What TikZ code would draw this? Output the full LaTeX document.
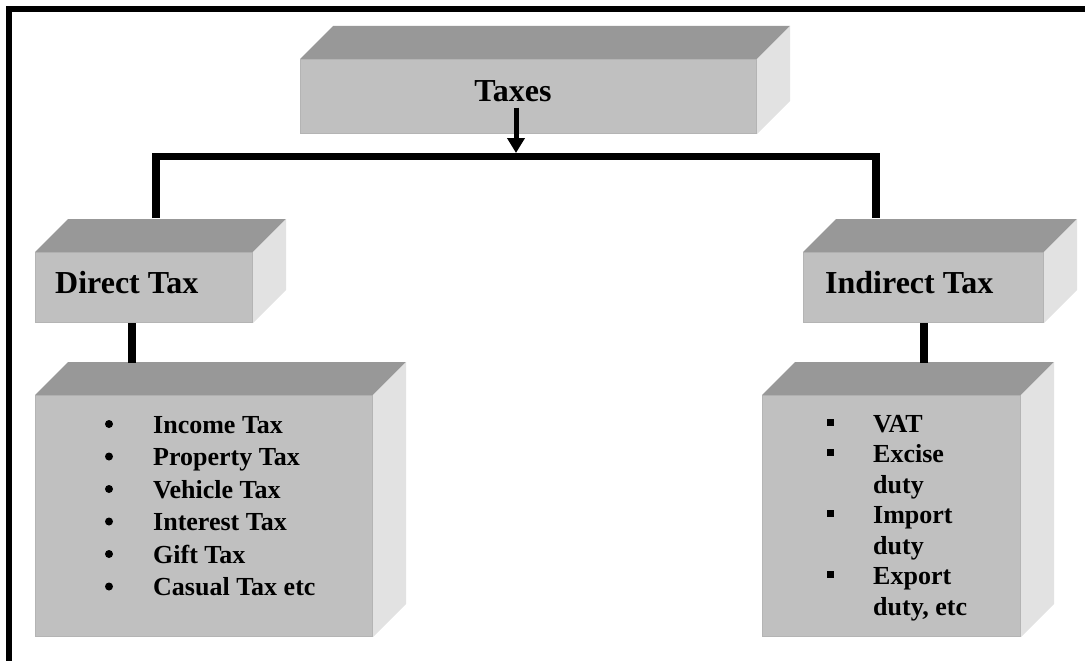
\documentclass[tikz,border=0pt]{standalone}
\usepackage{fontspec}
\setmainfont{Liberation Serif}
\usetikzlibrary{arrows.meta, calc}

\definecolor{frontgray}{HTML}{C0C0C0}
\definecolor{topgray}{HTML}{989898}
\definecolor{sidegray}{HTML}{E2E2E2}
\definecolor{edgegray}{HTML}{B4B4B4}

\tikzset{
  frontface/.style={draw=edgegray, line width=1pt, fill=frontgray, inner sep=0pt, anchor=north west},
  topface/.style={fill=topgray},
  sideface/.style={fill=sidegray},
  heading/.style={font=\bfseries\fontsize{32}{38}\selectfont, inner sep=0pt},
  item/.style={font=\bfseries\fontsize{26}{31}\selectfont, inner sep=0pt, anchor=base west},
  roundbullet/.style={circle, fill=black, inner sep=0pt, minimum size=8pt},
  squarebullet/.style={rectangle, fill=black, inner sep=0pt, minimum size=7pt},
  conn/.style={line width=7.5pt},
  downarrow/.style={line width=5pt, -{Triangle[width=17pt,length=15pt]}}
}

% box with a top and a right face
\newcommand{\cubebox}[5]{%
  \node[frontface, minimum width=#4, minimum height=#5] (#1) at (#2,#3) {};
  \fill[topface] (#1.north west) -- ++(33,-33) -- ($(#1.north east)+(33,-33)$) -- (#1.north east) -- cycle;
  \fill[sideface] (#1.north east) -- ++(33,-33) -- ($(#1.south east)+(33,-33)$) -- (#1.south east) -- cycle;
}

\begin{document}
\begin{tikzpicture}[x=1pt, y=-1pt]
\useasboundingbox (0,0) rectangle (1085,661);
% frame
\draw[line width=6pt] (9,9) rectangle (1095,664);

% boxes
\cubebox{taxes}{300}{59}{456pt}{74pt}
\cubebox{direct}{35}{252}{217pt}{70pt}
\cubebox{indirect}{803}{252}{240pt}{70pt}
\cubebox{dlist}{35}{395}{337pt}{241pt}
\cubebox{ilist}{762}{395}{258pt}{241pt}

\node[heading, anchor=base] (taxlbl) at (513,101) {Taxes};
\node[heading, anchor=base west] (dirlbl) at (55,293) {Direct Tax};
\node[heading, anchor=base west] (indlbl) at (825,293) {Indirect Tax};

% connectors
\coordinate (bar) at (516,156.5);
\coordinate (split) at (516,153);
\coordinate (dleg) at (156,218);
\coordinate (ileg) at (876,218);
\coordinate (dlow) at (132,363);
\coordinate (ilow) at (924,363);
\draw[downarrow] ([yshift=-6pt]taxlbl.south -| split) -- (split);
\draw[conn] (dleg) -- (dleg |- bar) -- (ileg |- bar) -- (ileg);
\draw[conn] (direct.south -| dlow) -- (dlow);
\draw[conn] (indirect.south -| ilow) -- (ilow);

% direct taxes
\foreach \t [count=\i] in {Income Tax, Property Tax, Vehicle Tax, Interest Tax, Gift Tax, Casual Tax etc} {
  \node[item] (dl\i) at (153, {433+32.5*(\i-1)}) {\t};
  \node[roundbullet] (db\i) at (109, {424+32.5*(\i-1)}) {};
}

% indirect taxes
\foreach \t/\b [count=\i] in {VAT/1, Excise/1, duty/0, Import/1, duty/0, Export/1, {duty, etc}/0} {
  \node[item] (il\i) at (873, {432+30.5*(\i-1)}) {\t};
  \ifnum\b=1
    \node[squarebullet] (ib\i) at (830, {422+30.5*(\i-1)}) {};
  \fi
}
\end{tikzpicture}
\end{document}
